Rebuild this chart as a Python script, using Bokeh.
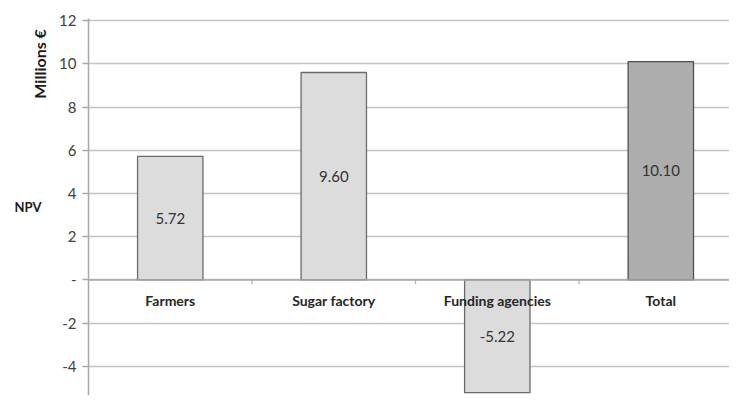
from bokeh.plotting import figure
from bokeh.models import Range1d, Span, FixedTicker, ColumnDataSource, LinearAxis
from bokeh.core.properties import value
from bokeh.embed import file_html
from bokeh.resources import INLINE

categories = ["Farmers", "Sugar factory", "Funding agencies", "Total"]
npv_values = [5.72, 9.60, -5.22, 10.10]
value_labels = ["5.72", "9.60", "-5.22", "10.10"]
bar_fills = ["#dcdcdc", "#dcdcdc", "#dcdcdc", "#adadad"]
bar_lines = ["#6a6a6a", "#6a6a6a", "#6a6a6a", "#505050"]
y_ticks = [-6, -4, -2, 0, 2, 4, 6, 8, 10, 12]
y_tick_labels = ["-6", "-4", "-2", "-", "2", "4", "6", "8", "10", "12"]
unit_label = "Millions €"
unit_label_at = 10
axis_title = "NPV"

FONT = "Lato"

xs = list(range(len(categories)))
src = ColumnDataSource(dict(
    x=xs, top=npv_values, fill=bar_fills, line=bar_lines,
    mid=[v / 2 for v in npv_values], lab=value_labels, cat=categories,
    zero=[0] * len(categories),
))

p = figure(width=729, height=395, output_backend="svg", toolbar_location=None,
           x_range=Range1d(-0.5, 3.42), y_range=Range1d(-5.35, 12.1),
           min_border_left=88, min_border_right=0, min_border_top=18, min_border_bottom=0)
p.outline_line_color = None
p.xaxis.visible = False
p.xgrid.visible = False
p.ygrid.grid_line_color = "#c4c4c4"
p.ygrid.grid_line_width = 1.5
p.ygrid.ticker = FixedTicker(ticks=y_ticks)

ax = p.yaxis[0]
ax.ticker = FixedTicker(ticks=y_ticks)
ax.major_label_overrides = {t: s for t, s in zip(y_ticks, y_tick_labels)}
ax.major_label_text_font = FONT
ax.major_label_text_font_size = "15px"
ax.major_label_text_color = "#404040"
ax.axis_line_color = "#a8a8a8"
ax.axis_line_width = 1.5
ax.major_tick_line_color = "#a8a8a8"
ax.major_tick_line_width = 1.5
ax.major_tick_out = 6
ax.major_tick_in = 0
ax.minor_tick_line_color = None
ax.major_label_standoff = 6

# outer axis carrying the unit label (top) and the NPV title
ax2 = LinearAxis(ticker=FixedTicker(ticks=[unit_label_at]),
                 major_label_overrides={unit_label_at: unit_label},
                 major_label_orientation="vertical",
                 major_label_text_font=FONT, major_label_text_font_size="16px",
                 major_label_text_font_style="bold", major_label_text_color="#1a1a1a",
                 axis_line_color=None, major_tick_line_color=None, minor_tick_line_color=None,
                 major_tick_out=0, major_tick_in=0, major_label_standoff=7,
                 axis_label=axis_title, axis_label_orientation="horizontal",
                 axis_label_text_font=FONT, axis_label_text_font_size="13px",
                 axis_label_text_font_style="bold", axis_label_text_color="#1a1a1a",
                 axis_label_standoff=-14)
p.add_layout(ax2, "left")

p.vbar(x="x", top="top", bottom=0, width=0.4, fill_color="fill", line_color="line",
       line_width=1.3, source=src)

p.add_layout(Span(location=0, dimension="width", line_color="#a8a8a8", line_width=1.5))

# category separator ticks
sep_x = [i + 0.5 for i in xs]
p.segment(x0=sep_x, y0=[0] * len(sep_x), x1=sep_x, y1=[-0.2] * len(sep_x),
          line_color="#b0b0b0", line_width=1.2)

p.text(x="x", y="mid", text="lab", source=src, text_align="center",
       text_baseline="middle", text_font=value(FONT), text_font_size="15px",
       text_color="#333333")

p.text(x="x", y="zero", text="cat", source=src, text_align="center",
       text_baseline="middle", y_offset=21, text_font=value(FONT),
       text_font_size="14px", text_font_style="bold", text_color="#262626")

open("out.html", "w").write(file_html(p, INLINE))
